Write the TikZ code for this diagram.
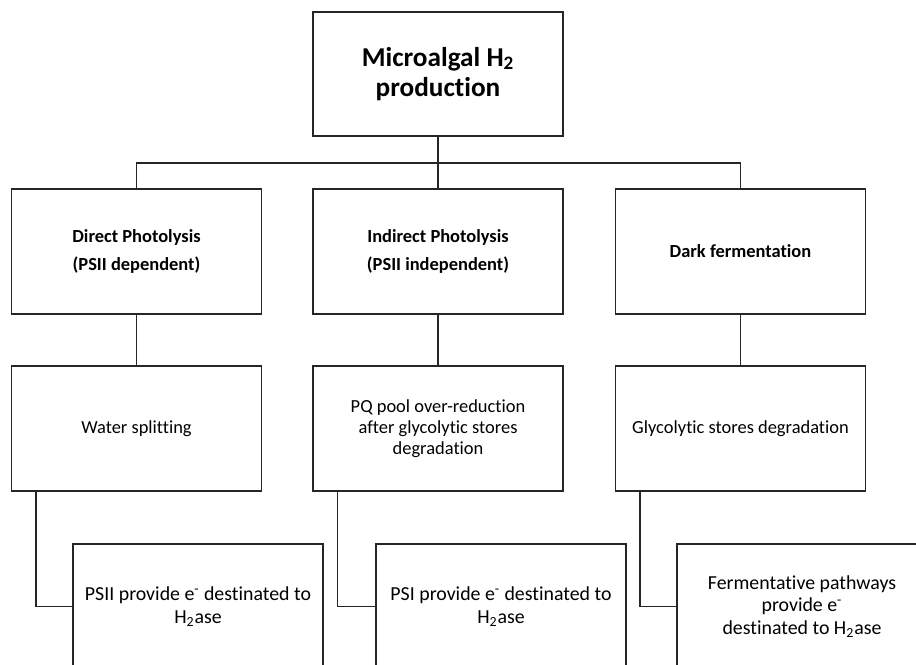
\documentclass[tikz,border=0pt]{standalone}
\usepackage{fontspec}
\setmainfont{Carlito}[Ligatures=NoCommon]
\begin{document}
\begin{tikzpicture}[x=0.02cm,y=-0.02cm]
   \tikzstyle{box} = [draw=black!85, line width=0.7pt, minimum width=5cm, minimum height=2.5cm, align=center, font=\fontsize{10.5}{11.8}\selectfont]
   \tikzstyle{head} = [box, font=\bfseries\fontsize{10.5}{12}\selectfont]
   \tikzstyle{leaf} = [box, font=\fontsize{11.3}{12.8}\selectfont]
   \tikzstyle{line} = [draw=black!85, line width=0.7pt]
   \clip (0,0) rectangle (916,664);
   \fill[white] (0,0) rectangle (916,664);

   \node[box, minimum height=2.48cm, font=\bfseries\fontsize{15.5}{17.5}\selectfont] (prod) at (438,74) {Microalgal H\textsubscript{2}\\production};
   \coordinate (bus) at (438,163);

   \node[head] (direct) at (136.5,251.5) {Direct Photolysis\\[4pt](PSII dependent)};
   \node[head] (indirect) at (438,251.5) {Indirect Photolysis\\[4pt](PSII independent)};
   \node[head] (dark) at (740.5,251.5) {Dark fermentation};

   \node[box] (water) at (136.5,428.5) {Water splitting};
   \node[box] (pq) at (438,428.5) {PQ pool over-reduction\\after glycolytic stores\\degradation};
   \node[box] (glyc) at (740.5,428.5) {Glycolytic stores degradation};

   \node[leaf] (psii) at (198,606.5) {PSII provide e\textsuperscript{-} destinated to\\H\textsubscript{2}ase};
   \node[leaf] (psi) at (501,606.5) {PSI provide e\textsuperscript{-} destinated to\\H\textsubscript{2}ase};
   \node[leaf] (ferm) at (802,606.5) {Fermentative pathways\\provide e\textsuperscript{-}\\destinated to H\textsubscript{2}ase};

   \path [line] (prod) -- (bus);
   \path [line] (bus) -| (direct);
   \path [line] (bus) -- (indirect);
   \path [line] (bus) -| (dark);

   \path [line] (direct) -- (water);
   \path [line] (indirect) -- (pq);
   \path [line] (dark) -- (glyc);

   \path [line] ([xshift=0.5cm]water.south west) |- (psii.west);
   \path [line] ([xshift=0.5cm]pq.south west) |- (psi.west);
   \path [line] ([xshift=0.5cm]glyc.south west) |- (ferm.west);

\end{tikzpicture}
\end{document}
